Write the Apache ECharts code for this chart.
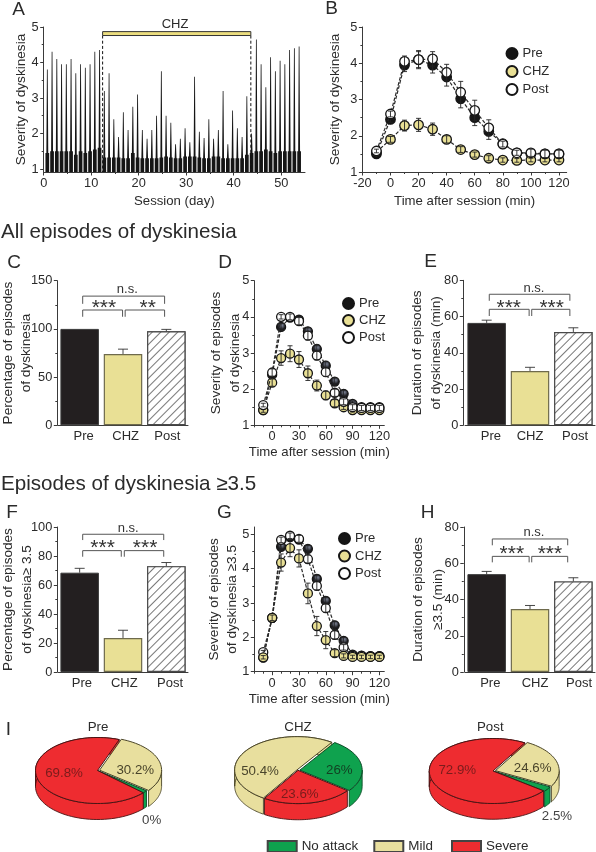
<!DOCTYPE html>
<html><head><meta charset="utf-8">
<style>html,body{margin:0;padding:0;background:#fff}#c{width:596px;height:852px}</style>
<script src="https://cdn.jsdelivr.net/npm/echarts@6/dist/echarts.min.js"></script>
</head><body><div id="c"></div>
<script>
// ---------- DATA ----------
const sessionPeaks = [3.8,4.3,4.1,3.95,3.95,4.1,3.7,3.95,3.85,3.95,4.3,4.35,3.2,3.7,2.4,1.9,2.6,2.1,2.75,3.1,2.1,1.85,2.1,2.5,3.75,2.5,2.3,1.7,1.85,2.15,1.75,3.6,2.05,1.87,2.4,1.85,2.1,3.2,1.7,2.65,2.15,1.9,3.05,2.0,4.65,3.95,3.3,4.15,3.75,4.05,3.95,4.35,4.4,4.45];
const sessionBases = [1.45,1.5,1.5,1.5,1.5,1.5,1.4,1.5,1.45,1.5,1.55,1.6,1.32,1.32,1.32,1.32,1.3,1.3,1.45,1.32,1.3,1.3,1.3,1.3,1.32,1.35,1.32,1.3,1.3,1.35,1.35,1.35,1.32,1.3,1.3,1.35,1.35,1.3,1.3,1.3,1.3,1.3,1.4,1.45,1.5,1.5,1.55,1.5,1.45,1.5,1.5,1.5,1.5,1.5];
const chzPeriod = [12.4,43.6];

const timesB = [-10,0,10,20,30,40,50,60,70,80,90,100,110,120];
const preB  = [1.5,2.45,3.95,4.1,3.95,3.62,3.02,2.5,2.12,1.78,1.53,1.5,1.5,1.5];
const chzB  = [1.55,1.9,2.28,2.3,2.18,1.9,1.62,1.48,1.38,1.33,1.32,1.33,1.33,1.33];
const postB = [1.58,2.6,4.05,4.1,4.12,3.75,3.2,2.7,2.22,1.77,1.53,1.53,1.5,1.5];
const preBErr  = [.05,.08,.18,.22,.22,.25,.25,.22,.22,.08,.05,.05,.05,.05];
const chzBErr  = [.05,.08,.15,.18,.17,.1,.08,.07,.07,.06,.05,.05,.05,.05];
const postBErr = [.05,.08,.15,.25,.2,.22,.3,.28,.22,.08,.07,.1,.1,.1];

const timesD = [-10,0,10,20,30,40,50,60,70,80,90,100,110,120];
const preD  = [1.42,2.4,3.72,3.98,3.92,3.6,3.11,2.65,2.21,1.87,1.59,1.5,1.5,1.5];
const chzD  = [1.42,2.18,2.86,2.98,2.82,2.44,2.1,1.83,1.61,1.5,1.42,1.42,1.42,1.42];
const postD = [1.56,2.46,4.0,4.0,3.88,3.48,2.93,2.47,1.9,1.65,1.5,1.48,1.48,1.48];
const preDErr  = [.05,.1,.1,.08,.1,.1,.12,.12,.1,.1,.08,.06,.06,.06];
const chzDErr  = [.06,.1,.2,.22,.22,.2,.15,.12,.1,.06,.05,.05,.05,.05];
const postDErr = [.05,.1,.06,.08,.1,.12,.12,.12,.1,.08,.07,.07,.07,.07];

const timesG = [-10,0,10,20,30,40,50,60,70,80,90,100,110,120];
const preG  = [1.41,2.57,4.64,4.92,4.85,4.58,3.7,3.06,2.35,1.9,1.5,1.47,1.45,1.45];
const chzG  = [1.42,2.57,4.18,4.6,4.3,3.28,2.33,1.92,1.54,1.46,1.43,1.43,1.43,1.43];
const postG = [1.57,2.57,4.84,4.96,4.87,4.28,3.5,2.85,2.07,1.71,1.46,1.46,1.45,1.45];
const preGErr  = [.05,.08,.1,.08,.1,.1,.12,.12,.12,.1,.06,.05,.05,.05];
const chzGErr  = [.05,.08,.25,.25,.25,.3,.28,.25,.1,.06,.05,.05,.05,.05];
const postGErr = [.05,.08,.08,.08,.1,.12,.12,.12,.12,.08,.06,.05,.05,.05];

const groups = ['Pre','CHZ','Post'];
const valuesC = [100,74,97.5];   const errorsC = [0,5,2];
const valuesE = [56.5,30,51.5];  const errorsE = [1.5,2,2.3];
const valuesF = [68.5,23.5,73];  const errorsF = [3,5.3,2.5];
const valuesH = [54,34.7,50];    const errorsH = [1.5,2,2];

const pieNames = ['No attack','Mild','Severe'];
const piePre  = [0,30.2,69.8];
const pieChz  = [26,50.4,23.6];
const piePost = [2.5,24.6,72.9];

const ticksA_x=[0,10,20,30,40,50], ticksA_xm=[5,15,25,35,45], ticksA_y=[1,2,3,4,5], ticksA_ym=[1.5,2.5,3.5,4.5];
const ticksB_x=[-20,0,20,40,60,80,100,120], ticksB_xm=[-10,10,30,50,70,90,110], ticks15=[1,2,3,4,5], ticks15m=[1.5,2.5,3.5,4.5];
const ticksD_x=[0,30,60,90,120], ticksD_xm=[-20,-10,10,20,40,50,70,80,100,110];
const ticksC_y=[0,50,100,150], ticksC_ym=[25,75,125];
const ticks80=[0,20,40,60,80], ticks80m=[10,30,50,70];
const ticks100=[0,20,40,60,80,100], ticks100m=[10,30,50,70,90];

// ---------- STYLE ----------
const FF='"Liberation Sans",Arial,sans-serif', INK='#2b2b2b', AX='#3a3a3a';
const colPre='#161616', colChz='#E9E095', colPost='#ffffff';
const gloss={type:'radial',x:.55,y:.35,r:.7,colorStops:[{offset:0,color:'#8b93a8'},{offset:.5,color:'#202024'},{offset:1,color:'#111'}]};
const pieColors={'No attack':'#0FA24E','Mild':'#E8DF9E','Severe':'#EE2C30'};

const option={animation:false,backgroundColor:'#fff',textStyle:{fontFamily:FF},
  grid:[],xAxis:[],yAxis:[],series:[],legend:[],graphic:[]};

function lineSt(){return {color:AX,width:1};}
function addAxis(list,o){
  list.push(o);return list.length-1;
}
function cart(b){ // b: left,right,top,bottom pixel box
  const g=option.grid.length;
  option.grid.push({left:b.l,top:b.t,width:b.r-b.l,height:b.b-b.t,containLabel:false,outerBoundsMode:'none'});
  const xBase={type:b.cat?'category':'value',gridIndex:g,position:'bottom',splitLine:{show:false},
    axisLine:{show:true,onZero:false,lineStyle:lineSt()},
    name:b.xName||'',nameLocation:'middle',nameGap:b.xGap||24,nameTextStyle:{color:INK,fontSize:13.2,fontFamily:FF}};
  let x;
  if(b.cat){
    const cats=b.cat.map((c,i)=>({value:c,textStyle:{padding:[0,0,0,2*b.labelShift[i]]}}));
    x=addAxis(option.xAxis,Object.assign(xBase,{data:cats,axisTick:{show:false},
       axisLabel:{color:INK,fontSize:13,fontFamily:FF,margin:5,interval:0}}));
  }else{
    x=addAxis(option.xAxis,Object.assign(xBase,{min:b.xMin,max:b.xMax,
       axisTick:{show:true,length:3.5,lineStyle:lineSt(),customValues:b.xT},
       axisLabel:{color:INK,fontSize:12.8,fontFamily:FF,margin:5,customValues:b.xT}}));
    addAxis(option.xAxis,{type:'value',gridIndex:g,position:'bottom',min:b.xMin,max:b.xMax,splitLine:{show:false},
       axisLine:{show:false,onZero:false},axisLabel:{show:false},axisTick:{show:true,length:2,lineStyle:lineSt(),customValues:b.xM}});
  }
  // hidden band coordinates for bar panels
  let xv=x;
  if(b.cat){xv=addAxis(option.xAxis,{type:'value',gridIndex:g,position:'bottom',min:-.5,max:2.5,show:false});}
  const y=addAxis(option.yAxis,{type:'value',gridIndex:g,position:'left',min:b.yMin,max:b.yMax,offset:b.yOff||0,splitLine:{show:false},
    axisLine:{show:true,onZero:false,lineStyle:lineSt()},
    axisTick:{show:true,length:3.5,lineStyle:lineSt(),customValues:b.yT},
    axisLabel:{color:INK,fontSize:12.8,fontFamily:FF,margin:5,customValues:b.yT},
    name:b.yName,nameLocation:'middle',nameGap:b.yGap,nameMoveOverlap:false,
    nameTextStyle:{color:INK,fontSize:13.6,fontFamily:FF,lineHeight:b.yLine||18.5}});
  addAxis(option.yAxis,{type:'value',gridIndex:g,position:'left',min:b.yMin,max:b.yMax,offset:b.yOff||0,splitLine:{show:false},
    axisLine:{show:false,onZero:false},axisLabel:{show:false},axisTick:{show:true,length:2,lineStyle:lineSt(),customValues:b.yM}});
  return {g,x,xv,y};
}

function errSeries(p,xs,ys,es,z,cap,upOnly,col){
  option.series.push({type:'custom',xAxisIndex:p.xv,yAxisIndex:p.y,z,silent:true,
    data:xs.map((t,i)=>[t,ys[i],es[i]]),
    renderItem(par,api){
      const x=api.value(0),v=api.value(1),e=api.value(2);
      if(!e)return {type:'group',children:[]};
      const hi=api.coord([x,v+e]),lo=api.coord([x,upOnly?v:v-e]);
      const st={stroke:col||'#222',lineWidth:.9,fill:null};
      const ch=[{type:'line',shape:{x1:hi[0],y1:hi[1],x2:lo[0],y2:lo[1]},style:st},
                {type:'line',shape:{x1:hi[0]-cap,y1:hi[1],x2:hi[0]+cap,y2:hi[1]},style:st}];
      if(!upOnly)ch.push({type:'line',shape:{x1:lo[0]-cap,y1:lo[1],x2:lo[0]+cap,y2:lo[1]},style:st});
      return {type:'group',children:ch};
    }});
}
function timeSeries(p,name,ts,ys,es,fill,z,size){
  option.series.push({type:'line',name,xAxisIndex:p.x,yAxisIndex:p.y,z,
    data:ts.map((t,i)=>[t,ys[i]]),symbol:'circle',symbolSize:size,
    itemStyle:{color:fill,borderColor:'#151515',borderWidth:1.3,opacity:1},
    lineStyle:{color:'#2a2a2a',width:1.2,type:[3.5,1.8]},showSymbol:true});
  errSeries(p,ts,ys,es,z+.5,2.5,false);
}
function legendFor(l,t,gap,size,names){
  option.legend.push({orient:'vertical',left:l,top:t,itemGap:gap,itemWidth:size,itemHeight:size,padding:0,
    selectedMode:false,data:names||groups,textStyle:{color:INK,fontSize:13,fontFamily:FF},icon:'circle'});
}
function barPanel(p,vals,errs,ann){
  option.series.push({type:'bar',xAxisIndex:p.x,yAxisIndex:p.y,barWidth:38.5,z:2,silent:true,
    data:vals.map((v,i)=>({value:v,itemStyle:[
      {color:'#231F20',borderColor:'#3a3a3a',borderWidth:1},
      {color:colChz,borderColor:'#6e6a4c',borderWidth:1.2},
      {color:'#fff',borderColor:'#4a4a4a',borderWidth:1.2,
       decal:{symbol:'rect',symbolSize:1,color:'#777',backgroundColor:'#fff',dashArrayX:[1,0],dashArrayY:[1,5],rotation:-Math.PI/4}}][i]}))});
  errSeries(p,vals.map((_,i)=>i),vals,errs,3,5,true,'#333');
  option.series.push({type:'custom',xAxisIndex:p.xv,yAxisIndex:p.y,z:4,silent:true,
    data:ann.brackets,
    renderItem(par,api){
      const a=api.coord([api.value(0),api.value(3)]),b=api.coord([api.value(0),api.value(2)]),
            c=api.coord([api.value(1),api.value(2)]),d=api.coord([api.value(1),api.value(3)]);
      return {type:'polyline',shape:{points:[a,b,c,d]},style:{stroke:'#555',lineWidth:1,fill:null}};
    }});
  ann.texts.forEach(o=>{
    const isStar=o[2][0]==='*';
    option.series.push({type:'custom',xAxisIndex:p.xv,yAxisIndex:p.y,z:5,silent:true,data:[[o[0],o[1]]],
      renderItem(par,api){
        const c=api.coord([api.value(0),api.value(1)]);
        return {type:'text',x:c[0],y:c[1]+(isStar?4:0),style:{text:o[2],fill:'#333',align:'center',verticalAlign:'middle',
          textAlign:'center',textVerticalAlign:'middle',font:(isStar?'21px ':'13px ')+FF}};
      }});
  });
}

// ---------- PANEL A ----------
const pA=cart({l:43.7,r:305,t:27,b:172,xMin:0,xMax:55,yMin:.915,yMax:5,xT:ticksA_x,xM:ticksA_xm,yT:ticksA_y,yM:ticksA_ym,
  xName:'Session (day)',xGap:23,yName:'Severity of dyskinesia',yGap:13.5});
option.series.push({type:'custom',xAxisIndex:pA.x,yAxisIndex:pA.y,z:2,silent:true,
  data:sessionPeaks.map((pk,i)=>[i+.76,pk,sessionBases[i]]),
  renderItem(par,api){
    const c=api.value(0),pk=api.value(1),bs=api.value(2),fl=.915;
    const P=(dx,v)=>api.coord([c+dx,v]);
    return {type:'polygon',shape:{points:[P(-.39,fl),P(-.39,bs),P(-.2,bs),P(-.08,pk),P(.08,pk),P(.2,bs),P(.39,bs),P(.39,fl)]},
      style:{fill:'#151515',stroke:null}};
  }});
option.series.push({type:'custom',xAxisIndex:pA.x,yAxisIndex:pA.y,z:3,silent:true,data:[chzPeriod],
  renderItem(par,api){
    const a=api.value(0),b=api.value(1);
    const p1=api.coord([a,4.87]),p2=api.coord([b,4.76]),f1=api.coord([a,.915]),f2=api.coord([b,.915]);
    const dash={stroke:'#111',lineWidth:1,lineDash:[3,2.2],fill:null};
    return {type:'group',children:[
      {type:'line',shape:{x1:p1[0],y1:p2[1],x2:f1[0],y2:f1[1]},style:dash},
      {type:'line',shape:{x1:p2[0],y1:p2[1],x2:f2[0],y2:f2[1]},style:dash},
      {type:'rect',shape:{x:p1[0],y:p1[1],width:p2[0]-p1[0],height:p2[1]-p1[1]},style:{fill:'#EBDD7F',stroke:'#333',lineWidth:1}}
    ]};
  }});

// ---------- PANEL B ----------
const pB=cart({l:362.4,r:566.7,t:27,b:172,xMin:-20,xMax:125.5,yMin:1,yMax:5,xT:ticksB_x,xM:ticksB_xm,yT:ticks15,yM:ticks15m,
  xName:'Time after session (min)',xGap:23,yName:'Severity of dyskinesia',yGap:18});
timeSeries(pB,'Pre',timesB,preB,preBErr,colPre,3,9.5);
timeSeries(pB,'CHZ',timesB,chzB,chzBErr,colChz,4,9.5);
timeSeries(pB,'Post',timesB,postB,postBErr,colPost,5,9.5);
legendFor(505.5,47,5,11);

// ---------- PANEL C ----------
const pC=cart({l:58,r:188,t:280.7,b:425.3,yMin:0,yMax:150,yT:ticksC_y,yM:ticksC_ym,cat:groups,labelShift:[4,2.7,1],
  yName:'Percentage of episodes\nof dyskinesia',yGap:21.6,yOff:.7});
barPanel(pC,valuesC,errorsC,{brackets:[[.07,1.96,134,126],[.07,.99,119.6,112.6],[1.05,1.96,119.6,112.6]],
  texts:[[1.1,140.7,'n.s.'],[.56,125.8,'***'],[1.57,125.8,'**']]});

// ---------- PANEL D ----------
const pD=cart({l:254.3,r:384.3,t:280.7,b:425.3,xMin:-20,xMax:125.5,yMin:1,yMax:5,xT:ticksD_x,xM:ticksD_xm,yT:ticks15,yM:ticks15m,
  xName:'Time after session (min)',xGap:21,yName:'Severity of episodes\nof dyskinesia',yGap:10.3});
timeSeries(pD,'Pre',timesD,preD,preDErr,gloss,3,9);
timeSeries(pD,'CHZ',timesD,chzD,chzDErr,colChz,4,9);
timeSeries(pD,'Post',timesD,postD,postDErr,colPost,5,9);
legendFor(342,297,4,11);

// ---------- PANEL E ----------
const pE=cart({l:465,r:595,t:280.3,b:425.3,yMin:0,yMax:80,yT:ticks80,yM:ticks80m,cat:groups,labelShift:[4.3,0,1.7],
  yName:'Duration of episodes\nof dyskinesia (min)',yGap:16.9,yOff:1.7,yLine:19.5});
barPanel(pE,valuesE,errorsE,{brackets:[[.06,1.92,72.3,68.7],[.06,.98,64,60.3],[1.04,1.92,64,60.3]],
  texts:[[1.09,75.6,'n.s.'],[.51,66.9,'***'],[1.5,66.9,'***']]});

// ---------- PANEL F ----------
const pF=cart({l:58,r:188,t:527,b:672,yMin:0,yMax:100,yT:ticks100,yM:ticks100m,cat:groups,labelShift:[2.3,1.3,3.7],
  yName:'Percentage of episodes\nof dyskinesia\u2265 3.5',yGap:21.3,yOff:.7});
barPanel(pF,valuesF,errorsF,{brackets:[[.07,1.94,95,91],[.07,.96,83.7,79.5],[1.03,1.94,83.7,79.5]],
  texts:[[1.12,99,'n.s.'],[.53,88,'***'],[1.51,88,'***']]});

// ---------- PANEL G ----------
const pG=cart({l:254.3,r:384.3,t:527,b:671.7,xMin:-20,xMax:125.5,yMin:1,yMax:5.215,xT:ticksD_x,xM:ticksD_xm,yT:ticks15,yM:ticks15m,
  xName:'Time after session (min)',xGap:21,yName:'Severity of episodes\nof dyskinesia \u22653.5',yGap:12.5});
timeSeries(pG,'Pre',timesG,preG,preGErr,gloss,3,9);
timeSeries(pG,'Post',timesG,postG,postGErr,colPost,4,9);
timeSeries(pG,'CHZ',timesG,chzG,chzGErr,colChz,5,9);
legendFor(338,532,4.5,11);

// ---------- PANEL H ----------
const pH=cart({l:465,r:595,t:527,b:672,yMin:0,yMax:80,yT:ticks80,yM:ticks80m,cat:groups,labelShift:[3.6,5,5.7],
  yName:'Duration of episodes\n\u22653.5 (min)',yGap:16.3,yOff:1.2,yLine:19.5});
barPanel(pH,valuesH,errorsH,{brackets:[[.13,1.87,73.4,69.9],[.13,.98,63.8,60.5],[1.04,1.87,63.8,60.5]],
  texts:[[1.09,77.2,'n.s.'],[.58,67.3,'***'],[1.46,67.3,'***']]});

// ---------- PIES (pseudo-3D custom series on hidden unit axes) ----------
const MIN_SHARE=1.3, DEPTH=.485;
function pie3d(cx,cy,rx,ry,values,order,startDeg,explode){
  const g=option.grid.length;
  option.grid.push({left:cx-rx,top:cy-ry,width:2*rx,height:2*ry,outerBoundsMode:'none'});
  const xi=option.xAxis.length,yi=option.yAxis.length;
  option.xAxis.push({type:'value',gridIndex:g,min:-1,max:1,show:false});
  option.yAxis.push({type:'value',gridIndex:g,min:-1,max:1,show:false});
  const shares=order.map(i=>Math.max(values[i],MIN_SHARE)), tot=shares.reduce((a,b)=>a+b,0);
  let a=startDeg; const rows=[];
  shares.forEach((s,k)=>{const a2=a-s/tot*360; rows.push([a,a2,order[k]]); a=a2;});
  const pt=(deg,r,ox,oy,dz)=>[ox+r*Math.cos(deg*Math.PI/180),oy+r*Math.sin(deg*Math.PI/180)-(dz||0)];
  const off=(r0,r1,i)=>{const m=(r0+r1)/2*Math.PI/180,e=(explode[i]||0);return [e*Math.cos(m),e*Math.sin(m)];};
  const stroke={'No attack':'#0b4a26','Mild':'#4a4528','Severe':'#4a1414'};
  const colorOf=i=>pieColors[pieNames[i]], strokeOf=i=>stroke[pieNames[i]];
  // side walls
  option.series.push({type:'custom',xAxisIndex:xi,yAxisIndex:yi,z:2,silent:true,data:rows,
    renderItem(par,api){
      const s=api.value(0),e=api.value(1),i=api.value(2),[ox,oy]=off(s,e,i);
      const kids=[];
      for(const [wHi,wLo] of [[0,-180],[360,180],[-180,-360]]){
        const h=Math.min(s,wHi),l=Math.max(e,wLo);
        if(h<=l)continue;
        const top=[],bot=[];
        for(let t=h;t>=l-1e-6;t-=Math.max((h-l)/40,.5)){
          top.push(api.coord(pt(t,1,ox,oy,0)));bot.unshift(api.coord(pt(t,1,ox,oy,DEPTH)));
        }
        top.push(api.coord(pt(l,1,ox,oy,0)));bot.unshift(api.coord(pt(l,1,ox,oy,DEPTH)));
        kids.push({type:'polygon',shape:{points:top.concat(bot)},style:{fill:colorOf(i),stroke:strokeOf(i),lineWidth:.9}});
      }
      return {type:'group',children:kids};
    }});
  // top faces
  option.series.push({type:'custom',xAxisIndex:xi,yAxisIndex:yi,z:3,silent:true,data:rows,
    renderItem(par,api){
      const s=api.value(0),e=api.value(1),i=api.value(2),[ox,oy]=off(s,e,i);
      const pts=[api.coord([ox,oy])];
      const n=Math.max(4,Math.round((s-e)/3));
      for(let k=0;k<=n;k++)pts.push(api.coord(pt(s+(e-s)*k/n,1,ox,oy,0)));
      return {type:'polygon',shape:{points:pts},style:{fill:colorOf(i),stroke:strokeOf(i),lineWidth:1}};
    }});
}
pie3d(97.5,770.5,62,33,piePre,[1,0,2],69.5,{1:.035});
pie3d(298,770.3,62.3,33.3,pieChz,[0,2,1],56,{0:.03,1:.02});
pie3d(493,771,63.7,32.5,piePost,[1,0,2],60,{1:.04,0:.02});

// empty series give the pie key its swatches
pieNames.forEach((n,i)=>{
  option.series.push({type:'line',name:n,xAxisIndex:pA.x,yAxisIndex:pA.y,data:[],
    itemStyle:{color:pieColors[n],borderColor:'#444',borderWidth:1},lineStyle:{width:0},symbol:'rect'});
  option.legend.push({left:[266.7,373.3,451][i],top:840,itemWidth:29,itemHeight:11,padding:0,selectedMode:false,icon:'rect',
    data:[n],textStyle:{color:INK,fontSize:13.4,fontFamily:FF}});
});

// ---------- TEXT ----------
function T(x,y,t,size,opt){
  opt=opt||{};
  option.graphic.push({type:'text',x,y,silent:true,z:50,style:{text:t,fill:opt.fill||INK,
    font:size+'px '+FF,align:opt.align||'center',verticalAlign:'middle',textAlign:opt.align||'center',textVerticalAlign:'middle'}});
}
[['A',18.5,10],['B',331.5,9],['C',14,263],['D',225,263],['E',430.5,262],['F',12,512.5],['G',224.5,512.5],['H',427.5,512.5],['I',8.5,729.5]]
  .forEach(o=>T(o[1],o[2],o[0],19));
T(1,232,'All episodes of dyskinesia',20.6,{align:'left'});
T(1,484,'Episodes of dyskinesia \u22653.5',20.6,{align:'left'});
T(175,24.3,'CHZ',13);
T(98,727.7,'Pre',13.3); T(298,727.7,'CHZ',13.3); T(490.3,727.7,'Post',13.3);
T(64,773.3,'69.8%',13.3,{fill:'#7a1c1c'}); T(135.3,770,'30.2%',13.3,{fill:'#4a452b'}); T(151.7,820.7,'0%',13.3,{fill:'#444'});
T(260,771.7,'50.4%',13.3,{fill:'#4a452b'}); T(339.3,770.7,'26%',13.3,{fill:'#123f22'}); T(299.8,794,'23.6%',13.3,{fill:'#7a1c1c'});
T(457.3,770,'72.9%',13.3,{fill:'#7a1c1c'}); T(532.7,768.3,'24.6%',13.3,{fill:'#4a452b'}); T(557,816.7,'2.5%',13.3,{fill:'#444'});

const chart=echarts.init(document.getElementById('c'),null,{renderer:'canvas',width:596,height:852});
chart.setOption(option);
</script></body></html>
